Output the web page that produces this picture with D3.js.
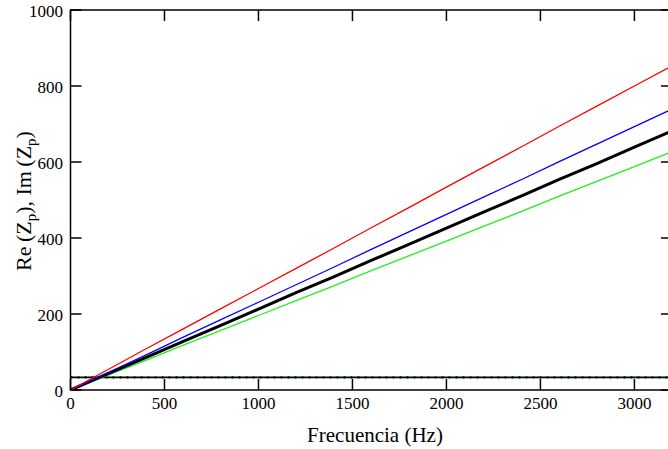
<!DOCTYPE html>
<html><head><meta charset="utf-8">
<script src="https://cdn.jsdelivr.net/npm/d3@7"></script>
<style>body{margin:0;background:#fff}svg{display:block}</style>
</head><body>
<svg id="c" width="668" height="449"></svg>
<script>
const freq  = [0,200,400,600,800,1000,1200,1400,1600,1800,2000,2200,2400,2600,2800,3000,3200];
const red   = [0,54,108,161,214,267,320,373,427,480,534,587,640,694,747,800,853];
const blue  = [0,46,92,139,185,231,277,323,370,416,462,508,554,601,647,693,739];
const black = [0,43,85,128,170,213,256,298,341,383,426,469,511,554,596,639,682];
const green = [0,39,78,118,157,196,235,274,314,353,392,431,470,510,549,588,627];
const imBlack = [33,33,33,33,33,33,33,33,33,33,33,33,33,33,33,33,33];
const imGreen = [33,33,33,33,33,33,33,33,33,33,33,33,33,33,33,33,33];
const xTicks = [0,500,1000,1500,2000,2500,3000];
const yTicks = [0,200,400,600,800,1000];

const svg = d3.select("#c");
const L=70.5, R=672, T=10, B=390;
const x = d3.scaleLinear().domain([0,3200]).range([L,R]);
const y = d3.scaleLinear().domain([0,1000]).range([B,T]);
const font = "'Liberation Serif','Times New Roman',serif";

svg.append("defs").append("clipPath").attr("id","clip")
  .append("rect").attr("x",L).attr("y",T).attr("width",R-L).attr("height",B-T);

const g = svg.append("g").attr("clip-path","url(#clip)");
const line = d3.line().x((d,i)=>x(freq[i])).y(d=>y(d));
function draw(arr,color,w,dash){
  const p=g.append("path").datum(arr).attr("d",line).attr("fill","none")
    .attr("stroke",color).attr("stroke-width",w).attr("stroke-linejoin","round");
  if(dash) p.attr("stroke-dasharray",dash);
}
draw(imGreen,"#1a9a1a",2.8,"2,5");
draw(imBlack,"#000",1.8);
draw(green,"#22ee22",1.3);
draw(black,"#000",3);
draw(blue,"#0000ff",1.3);
draw(red,"#ff0000",1.3);

// axes (ticks inward)
const tl=11;
const ax=svg.append("g").attr("stroke","#000").attr("stroke-width",1.5);
ax.append("rect").attr("x",L).attr("y",T).attr("width",R-L).attr("height",B-T).attr("fill","none");
xTicks.forEach(t=>{
  ax.append("line").attr("x1",x(t)).attr("x2",x(t)).attr("y1",B).attr("y2",B-tl);
  ax.append("line").attr("x1",x(t)).attr("x2",x(t)).attr("y1",T).attr("y2",T+tl);
});
yTicks.forEach(t=>{
  ax.append("line").attr("x1",L).attr("x2",L+tl).attr("y1",y(t)).attr("y2",y(t));
  ax.append("line").attr("x1",R).attr("x2",R-tl).attr("y1",y(t)).attr("y2",y(t));
});

const lab=svg.append("g").attr("font-family",font).attr("font-size",17).attr("fill","#000");
xTicks.forEach(t=>lab.append("text").attr("x",x(t)).attr("y",409).attr("text-anchor","middle").text(t));
yTicks.forEach(t=>lab.append("text").attr("x",63).attr("y",y(t)+7).attr("text-anchor","end").text(t));

svg.append("text").attr("x",375).attr("y",442).attr("text-anchor","middle")
  .attr("font-family",font).attr("font-size",21).text("Frecuencia (Hz)");

const yt=svg.append("text").attr("transform","translate(31,201) rotate(-90)")
  .attr("text-anchor","middle").attr("font-family",font).attr("font-size",22);
yt.append("tspan").text("Re\u2009(Z");
yt.append("tspan").attr("font-size",15).attr("dy",5).text("p");
yt.append("tspan").attr("dy",-5).text("), Im\u2009(Z");
yt.append("tspan").attr("font-size",15).attr("dy",5).text("p");
yt.append("tspan").attr("dy",-5).text(")");
</script>
</body></html>
